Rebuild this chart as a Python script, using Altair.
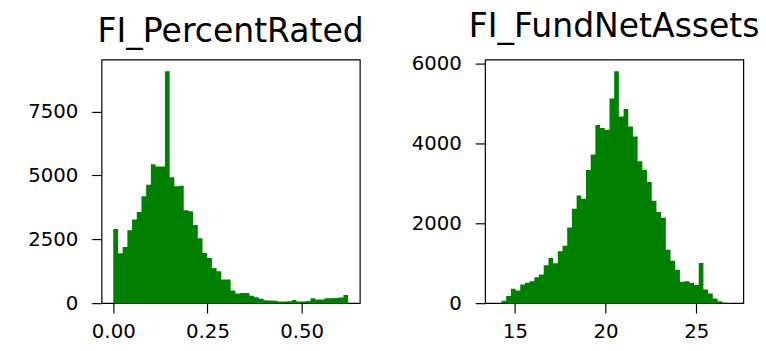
import altair as alt
import numpy as np
import pandas as pd

# Histogram counts (50 bins each) for the two columns
percent_rated_counts = [
    2900, 1950, 2200, 2850, 3280, 3570, 4190, 4640, 5440, 5350,
    5350, 9080, 4930, 4580, 4600, 3640, 3600, 3060, 2540, 1960,
    1770, 1380, 1250, 930, 930, 500, 380, 400, 400, 290,
    230, 170, 110, 100, 95, 65, 65, 70, 120, 65,
    65, 80, 190, 140, 140, 190, 190, 200, 220, 320,
]
percent_rated_range = [0.0, 0.623]

fund_net_assets_counts = [
    5, 60, 180, 360, 320, 470, 510, 550, 650, 720,
    950, 1130, 1000, 1300, 1440, 1900, 2370, 2700, 2620, 3340,
    3730, 4470, 4390, 4350, 5130, 5815, 4680, 4870, 4430, 4180,
    3560, 3340, 3040, 2570, 2285, 2140, 1340, 1065, 840, 535,
    550, 510, 455, 1005, 345, 240, 115, 50, 10, 5,
]
fund_net_assets_range = [14.0, 26.95]

titles = ["FI_PercentRated", "FI_FundNetAssets"]
x_ticks = [[0.0, 0.25, 0.5], [15, 20, 25]]
x_formats = [".2f", "d"]
y_ticks = [[0, 2500, 5000, 7500], [0, 2000, 4000, 6000]]

FONT = "DejaVu Sans"


def bins_frame(counts, rng):
    # One row per bin edge; the last edge repeats the final count so the
    # step outline closes the last bin.
    edges = np.linspace(rng[0], rng[1], len(counts) + 1)
    return pd.DataFrame({"edge": edges, "count": list(counts) + [counts[-1]]})


def hist_panel(counts, rng, title, xt, xfmt, yt):
    df = bins_frame(counts, rng)
    span = rng[1] - rng[0]
    x_dom = [rng[0] - 0.05 * span, rng[1] + 0.05 * span]
    y_dom = [0, max(counts) * 1.05]
    return (
        alt.Chart(df)
        .mark_area(color="green", interpolate="step-after", opacity=1)
        .encode(
            x=alt.X(
                "edge:Q",
                scale=alt.Scale(domain=x_dom, nice=False, zero=False),
                axis=alt.Axis(values=xt, format=xfmt, title=None),
            ),
            y=alt.Y(
                "count:Q",
                scale=alt.Scale(domain=y_dom, nice=False),
                axis=alt.Axis(values=yt, format="d", title=None),
            ),
            y2=alt.Y2(datum=0),
        )
        .properties(
            width=262,
            height=247,
            title=alt.TitleParams(
                text=title,
                font=FONT,
                fontSize=33.5,
                fontWeight="normal",
                color="black",
                anchor="middle",
                frame="group",
                offset=10,
            ),
        )
    )


left = hist_panel(percent_rated_counts, percent_rated_range, titles[0],
                  x_ticks[0], x_formats[0], y_ticks[0])
right = hist_panel(fund_net_assets_counts, fund_net_assets_range, titles[1],
                   x_ticks[1], x_formats[1], y_ticks[1])

chart = (
    alt.hconcat(left, right, spacing=46)
    .properties(padding={"left": 27, "top": 7, "right": 5, "bottom": 5},
                background="white")
    .configure_view(stroke="black", strokeWidth=1.2)
    .configure_axis(
        grid=False,
        domain=False,
        labelFont=FONT,
        labelFontSize=20,
        labelColor="black",
        tickColor="black",
        tickSize=10,
        tickWidth=1.2,
    )
    .configure_axisY(labelPadding=14)
    .configure_axisX(labelPadding=9)
)

chart.save("out.html", embed_options={"renderer": "svg", "actions": False})
